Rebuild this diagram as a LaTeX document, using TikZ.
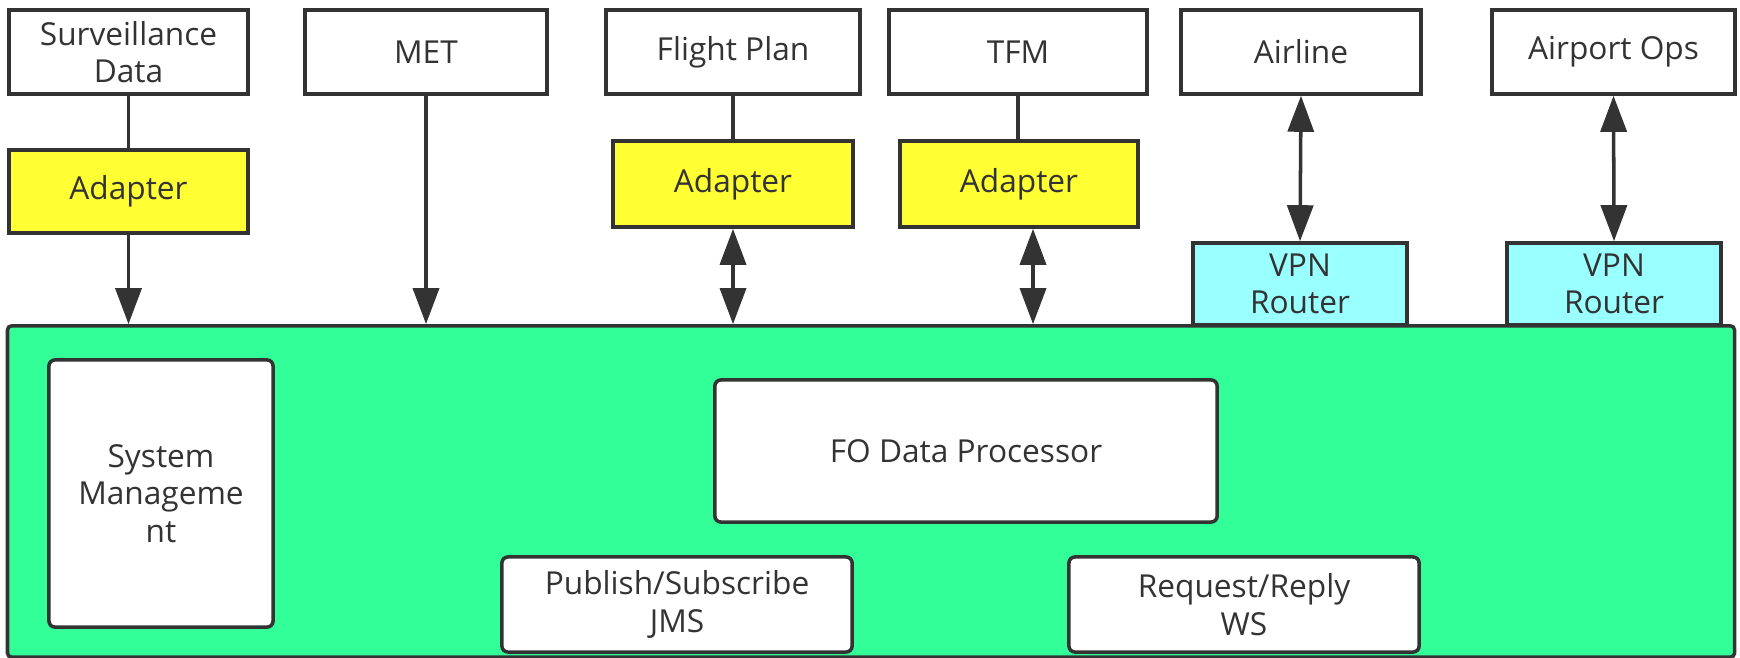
\documentclass[tikz,border=0pt]{standalone}
\usepackage{fontspec}
\setmainfont{Open Sans}
\usetikzlibrary{arrows.meta}
\definecolor{edge}{HTML}{333333}
\definecolor{adapterfill}{HTML}{FFFF33}
\definecolor{routerfill}{HTML}{99FFFF}
\definecolor{busfill}{HTML}{33FF99}
\tikzset{
  >={Triangle[length=0.36cm, width=0.26cm]},
  box/.style={draw=edge, line width=1pt, fill=white, text=edge, align=center,
    inner sep=0pt, font=\fontsize{9}{10.6}\selectfont},
  source/.style={box},
  adapter/.style={box, fill=adapterfill},
  router/.style={box, fill=routerfill},
  part/.style={box, rounded corners=0.06cm},
  link/.style={draw=edge, line width=1pt},
  flow/.style={link, ->},
  both/.style={link, <->}
}
\begin{document}
\begin{tikzpicture}[x=0.01cm, y=-0.01cm]
  \useasboundingbox (0,0) rectangle (1740,658);
  % FO system
  \node[box, fill=busfill, rounded corners=0.04cm, minimum width=17.26cm, minimum height=3.31cm] (bus) at (871,491.5) {};
  \node[part, minimum width=2.24cm, minimum height=2.67cm] (sysmgmt) at (161,493.5) {System\\Manageme\\nt};
  \node[part, minimum width=5.02cm, minimum height=1.42cm] (fodp) at (966,451) {FO Data Processor};
  \node[part, minimum width=3.5cm, minimum height=0.95cm] (pubsub) at (677,604.5) {Publish/Subscribe\\JMS};
  \node[part, minimum width=3.5cm, minimum height=0.95cm] (reqrep) at (1244,604.5) {Request/Reply\\WS};
  % sources
  \node[source, minimum width=2.39cm, minimum height=0.84cm] (surv) at (128.5,52) {Surveillance\\Data};
  \node[source, minimum width=2.42cm, minimum height=0.84cm] (met) at (426,52) {MET};
  \node[source, minimum width=2.54cm, minimum height=0.84cm] (fpl) at (733,52) {Flight Plan};
  \node[source, minimum width=2.58cm, minimum height=0.84cm] (tfm) at (1018,52) {TFM};
  \node[source, minimum width=2.40cm, minimum height=0.84cm] (airline) at (1301,52) {Airline};
  \node[source, minimum width=2.43cm, minimum height=0.84cm] (apops) at (1613.5,52) {Airport Ops};
  % adapters and routers
  \node[adapter, minimum width=2.39cm, minimum height=0.83cm] (ad1) at (128.5,191.5) {Adapter};
  \node[adapter, minimum width=2.40cm, minimum height=0.86cm] (ad2) at (733,184) {Adapter};
  \node[adapter, minimum width=2.38cm, minimum height=0.86cm] (ad3) at (1019,184) {Adapter};
  \node[router, minimum width=2.14cm, minimum height=0.82cm] (vpn1) at (1300,284) {VPN\\Router};
  \node[router, minimum width=2.14cm, minimum height=0.82cm] (vpn2) at (1614,284) {VPN\\Router};
  % connections
  \draw[link] (surv) -- (ad1);
  \draw[flow] (ad1.south) -- (ad1.south |- bus.north);
  \draw[flow] (met.south) -- (met.south |- bus.north);
  \draw[link] (fpl) -- (ad2);
  \draw[both] (ad2.south) -- (ad2.south |- bus.north);
  \draw[link] (tfm) -- (tfm |- ad3.north);
  \draw[both] ([xshift=0.14cm]ad3.south) -- ([xshift=0.14cm]ad3.south |- bus.north);
  \draw[both] (airline.south) -- (vpn1.north);
  \draw[both] (apops.south) -- (vpn2.north);
\end{tikzpicture}
\end{document}
